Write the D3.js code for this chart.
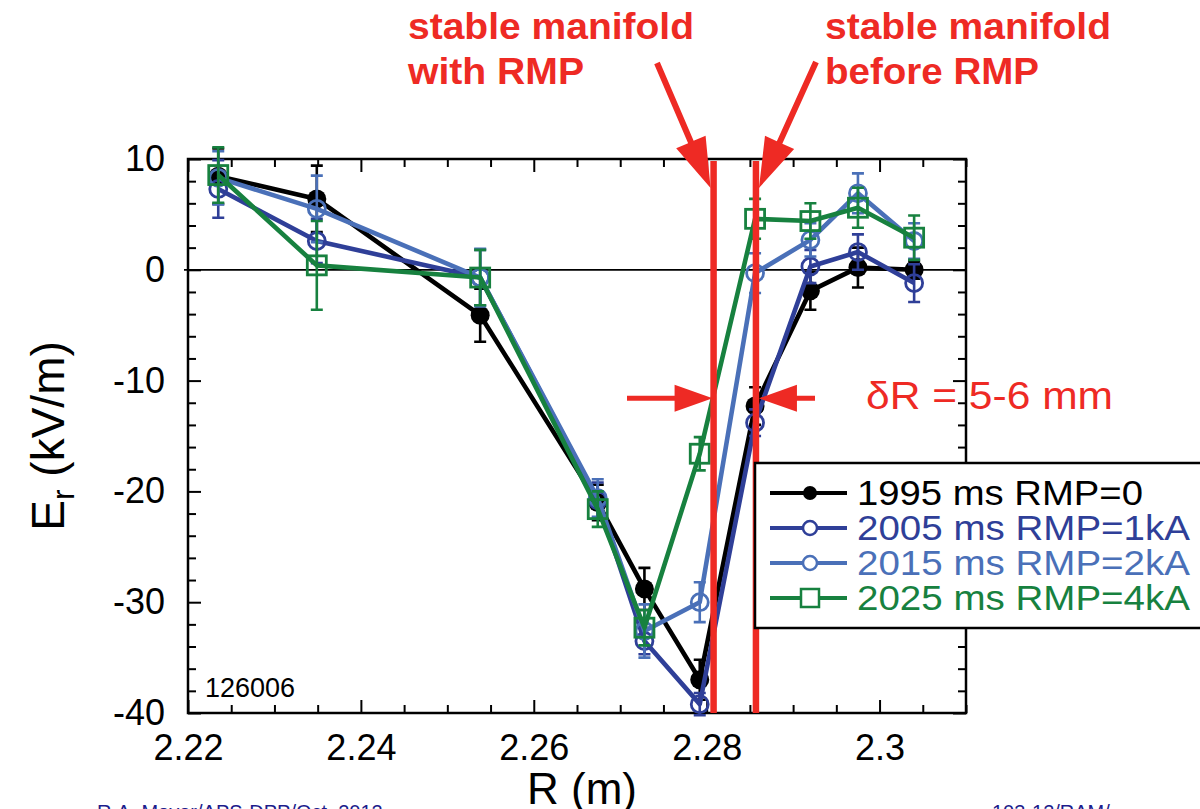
<!DOCTYPE html>
<html><head><meta charset="utf-8">
<script src="https://cdn.jsdelivr.net/npm/d3@7"></script>
<style>body{margin:0;background:#fff} svg{display:block} text{font-family:"Liberation Sans",Arial,Helvetica,sans-serif}</style>
</head><body><svg id="c" width="1200" height="809"></svg>
<script>
// ---- data ----
const radius = [2.2235, 2.2349, 2.2538, 2.2674, 2.2728, 2.2792, 2.2856, 2.2920, 2.2975, 2.3040];
const seriesNames = ["1995 ms RMP=0", "2005 ms RMP=1kA", "2015 ms RMP=2kA", "2025 ms RMP=4kA"];
const er1995 = [8.45, 6.4, -4.1, -21.0, -28.8, -37.0, -12.3, -1.9, 0.2, 0.0];
const err1995 = [2.5, 3.0, 2.4, 1.6, 1.9, 1.8, 1.7, 1.7, 1.8, 0.8];
const er2005 = [7.3, 2.6, -0.7, -20.8, -33.5, -39.2, -13.8, 0.3, 1.6, -1.2];
const err2005 = [2.6, 2.0, 2.5, 1.6, 1.2, 1.0, 1.2, 1.5, 1.6, 1.7];
const er2015 = [8.3, 5.5, -0.7, -20.6, -32.6, -30.0, -0.3, 2.7, 6.9, 2.6];
const err2015 = [2.4, 3.0, 2.6, 1.7, 2.4, 1.8, 1.8, 1.5, 1.8, 1.6];
const er2025 = [8.55, 0.4, -0.7, -21.6, -32.3, -16.6, 4.6, 4.4, 5.6, 2.9];
const err2025 = [2.5, 4.0, 2.5, 1.6, 1.6, 1.5, 1.8, 1.6, 1.8, 2.0];
const xTickValues = [2.22, 2.24, 2.26, 2.28, 2.30];
const xTickLabels = ["2.22", "2.24", "2.26", "2.28", "2.3"];
const yTickValues = [10, 0, -10, -20, -30, -40];
const yTickLabels = ["10", "0", "-10", "-20", "-30", "-40"];
const manifoldR = [2.2808, 2.2857];
const deltaE = -11.6;
const annoTexts = [["stable manifold", "with RMP"], ["stable manifold", "before RMP"]];
const deltaLabel = "δR = 5-6 mm";
const shotLabel = "126006";

// ---- styles ----
const colors = ["#000000", "#2f3f98", "#4a70b8", "#17813f"];
const markers = ["filled", "circle", "circle", "square"];
const red = "#ee2a24";

const svg = d3.select("#c");
svg.append("rect").attr("width", 1200).attr("height", 809).attr("fill", "#fff");

const L = 188, Rt = 966, T = 159, B = 713;
const x = d3.scaleLinear().domain([2.22, 2.31]).range([L, Rt]);
const y = d3.scaleLinear().domain([-40, 10]).range([B, T]);

const minorX = d3.range(0, 19).map(i => 2.22 + i * 0.005).filter(v => !xTickValues.some(t => Math.abs(t - v) < 1e-6));
const minorY = d3.range(-40, 11, 2).filter(v => v % 10 !== 0);

function styleAxis(g) {
  g.select(".domain").remove();
  g.selectAll("line").attr("stroke", "#000").attr("stroke-width", 2);
  g.selectAll("text").attr("font-size", 36).attr("fill", "#000")
    .attr("font-family", '"Liberation Sans",Arial,sans-serif');
}
// bottom
svg.append("g").attr("transform", `translate(0,${B})`)
  .call(d3.axisBottom(x).tickValues(xTickValues).tickFormat((d, i) => xTickLabels[i]).tickSize(-13).tickPadding(21))
  .call(styleAxis);
svg.append("g").attr("transform", `translate(0,${B})`)
  .call(d3.axisBottom(x).tickValues(minorX).tickFormat("").tickSize(-8)).call(styleAxis);
// top
svg.append("g").attr("transform", `translate(0,${T})`)
  .call(d3.axisTop(x).tickValues(xTickValues).tickFormat("").tickSize(-13)).call(styleAxis);
svg.append("g").attr("transform", `translate(0,${T})`)
  .call(d3.axisTop(x).tickValues(minorX).tickFormat("").tickSize(-8)).call(styleAxis);
// left
svg.append("g").attr("transform", `translate(${L},0)`)
  .call(d3.axisLeft(y).tickValues(yTickValues).tickFormat((d, i) => yTickLabels[i]).tickSize(-13).tickPadding(23))
  .call(styleAxis);
svg.append("g").attr("transform", `translate(${L},0)`)
  .call(d3.axisLeft(y).tickValues(minorY).tickFormat("").tickSize(-8)).call(styleAxis);
// right
svg.append("g").attr("transform", `translate(${Rt},0)`)
  .call(d3.axisRight(y).tickValues(yTickValues).tickFormat("").tickSize(-13)).call(styleAxis);
svg.append("g").attr("transform", `translate(${Rt},0)`)
  .call(d3.axisRight(y).tickValues(minorY).tickFormat("").tickSize(-8)).call(styleAxis);

// frame
svg.append("rect").attr("x", L).attr("y", T).attr("width", Rt - L).attr("height", B - T)
  .attr("fill", "none").attr("stroke", "#000").attr("stroke-width", 2.5);
// zero line
svg.append("line").attr("x1", L - 4).attr("x2", Rt).attr("y1", y(0)).attr("y2", y(0))
  .attr("stroke", "#000").attr("stroke-width", 1.8);

// axis titles
const yl = svg.append("text").attr("transform", `translate(64,${(T + B) / 2}) rotate(-90)`)
  .attr("text-anchor", "middle").attr("font-size", 46).attr("fill", "#000");
yl.append("tspan").text("E");
yl.append("tspan").attr("font-size", 32).attr("dy", 10).text("r");
yl.append("tspan").attr("dy", -10).text(" (kV/m)");
svg.append("text").attr("x", 582).attr("y", 804).attr("text-anchor", "middle")
  .attr("font-size", 44).attr("fill", "#000").text("R (m)");

// shot number
svg.append("text").attr("x", 205).attr("y", 697).attr("font-size", 27).attr("fill", "#000").text(shotLabel);

// ---- series ----
const seriesData = [
  [er1995, err1995], [er2005, err2005], [er2015, err2015], [er2025, err2025]
];
const line = d3.line().x(d => x(d.r)).y(d => y(d.v));
seriesData.forEach(([vals, errs], si) => {
  const pts = radius.map((r, i) => ({ r, v: vals[i], e: errs[i] }));
  const g = svg.append("g");
  const c = colors[si];
  // error bars
  pts.forEach(p => {
    const cx = x(p.r), y1 = y(p.v + p.e), y2 = y(p.v - p.e);
    g.append("path").attr("d", `M${cx},${y1}V${y2}M${cx - 6},${y1}H${cx + 6}M${cx - 6},${y2}H${cx + 6}`)
      .attr("stroke", c).attr("stroke-width", 2.6).attr("fill", "none");
  });
  g.append("path").datum(pts).attr("d", line).attr("fill", "none")
    .attr("stroke", c).attr("stroke-width", 4.6).attr("stroke-linejoin", "round");
  pts.forEach(p => {
    const cx = x(p.r), cy = y(p.v);
    if (markers[si] === "filled") {
      g.append("circle").attr("cx", cx).attr("cy", cy).attr("r", 9.5).attr("fill", c);
    } else if (markers[si] === "circle") {
      g.append("circle").attr("cx", cx).attr("cy", cy).attr("r", 8.5).attr("fill", "none")
        .attr("stroke", c).attr("stroke-width", 2.8);
    } else {
      g.append("rect").attr("x", cx - 9.5).attr("y", cy - 9.5).attr("width", 19).attr("height", 19)
        .attr("fill", "none").attr("stroke", c).attr("stroke-width", 2.8);
    }
  });
});

// ---- red annotations ----
function arrow(x0, y0, x1, y1, w, hl, hw) {
  const dx = x1 - x0, dy = y1 - y0, len = Math.hypot(dx, dy);
  const ux = dx / len, uy = dy / len, px = -uy, py = ux;
  const bx = x1 - ux * hl, by = y1 - uy * hl;
  const P = [
    [x0 + px * w / 2, y0 + py * w / 2], [bx + px * w / 2, by + py * w / 2],
    [bx + px * hw / 2, by + py * hw / 2], [x1, y1],
    [bx - px * hw / 2, by - py * hw / 2], [bx - px * w / 2, by - py * w / 2],
    [x0 - px * w / 2, y0 - py * w / 2]
  ];
  svg.append("polygon").attr("points", P.map(p => p.join(",")).join(" ")).attr("fill", red);
}
manifoldR.forEach(m => {
  svg.append("line").attr("x1", x(m)).attr("x2", x(m)).attr("y1", y(10) + 2).attr("y2", y(-40))
    .attr("stroke", red).attr("stroke-width", 6.5);
});
arrow(657, 63, x(manifoldR[0]) - 3, 188, 6, 50, 32);
arrow(816, 62, x(manifoldR[1]) + 3, 188, 6, 50, 32);
arrow(627, y(deltaE), x(manifoldR[0]) - 1, y(deltaE), 5, 38, 27);
arrow(815, y(deltaE), x(manifoldR[1]) + 3, y(deltaE), 5, 38, 27);

const annoX = [408, 825];
const annoW = [[286, 176], [286, 214]];
annoTexts.forEach((lines, i) => {
  lines.forEach((t, j) => {
    svg.append("text").attr("x", annoX[i]).attr("y", 39 + j * 45)
      .attr("font-size", 36).attr("font-weight", "bold").attr("fill", red)
      .attr("textLength", annoW[i][j]).attr("lengthAdjust", "spacingAndGlyphs").text(t);
  });
});
svg.append("text").attr("x", 866).attr("y", 409).attr("font-size", 38).attr("fill", red)
  .attr("textLength", 247).attr("lengthAdjust", "spacingAndGlyphs").text(deltaLabel);

// ---- legend ----
const legW = [286, 333, 333, 333];
const lg = svg.append("g");
lg.append("rect").attr("x", 755).attr("y", 463).attr("width", 460).attr("height", 165)
  .attr("fill", "#fff").attr("stroke", "#000").attr("stroke-width", 2.5);
seriesNames.forEach((name, i) => {
  const ly = 493 + i * 35, c = colors[i];
  lg.append("line").attr("x1", 770).attr("x2", 847).attr("y1", ly).attr("y2", ly)
    .attr("stroke", c).attr("stroke-width", 4);
  if (markers[i] === "filled") lg.append("circle").attr("cx", 810).attr("cy", ly).attr("r", 7).attr("fill", c);
  else if (markers[i] === "circle") lg.append("circle").attr("cx", 810).attr("cy", ly).attr("r", 7)
    .attr("fill", "#fff").attr("stroke", c).attr("stroke-width", 2.5);
  else lg.append("rect").attr("x", 801).attr("y", ly - 9).attr("width", 18).attr("height", 18)
    .attr("fill", "#fff").attr("stroke", c).attr("stroke-width", 2.5);
  lg.append("text").attr("x", 857).attr("y", ly + 12).attr("font-size", 35).attr("fill", c)
    .attr("textLength", legW[i]).attr("lengthAdjust", "spacingAndGlyphs").text(name);
});

// ---- footer (cut off by page edge) ----
svg.append("text").attr("x", 97).attr("y", 819).attr("font-size", 20).attr("fill", "#1c1c8c").text("R.A. Moyer/APS-DPP/Oct. 2012");
svg.append("text").attr("x", 992).attr("y", 819).attr("font-size", 20).attr("fill", "#1c1c8c").text("103-12/RAM/");
</script></body></html>
